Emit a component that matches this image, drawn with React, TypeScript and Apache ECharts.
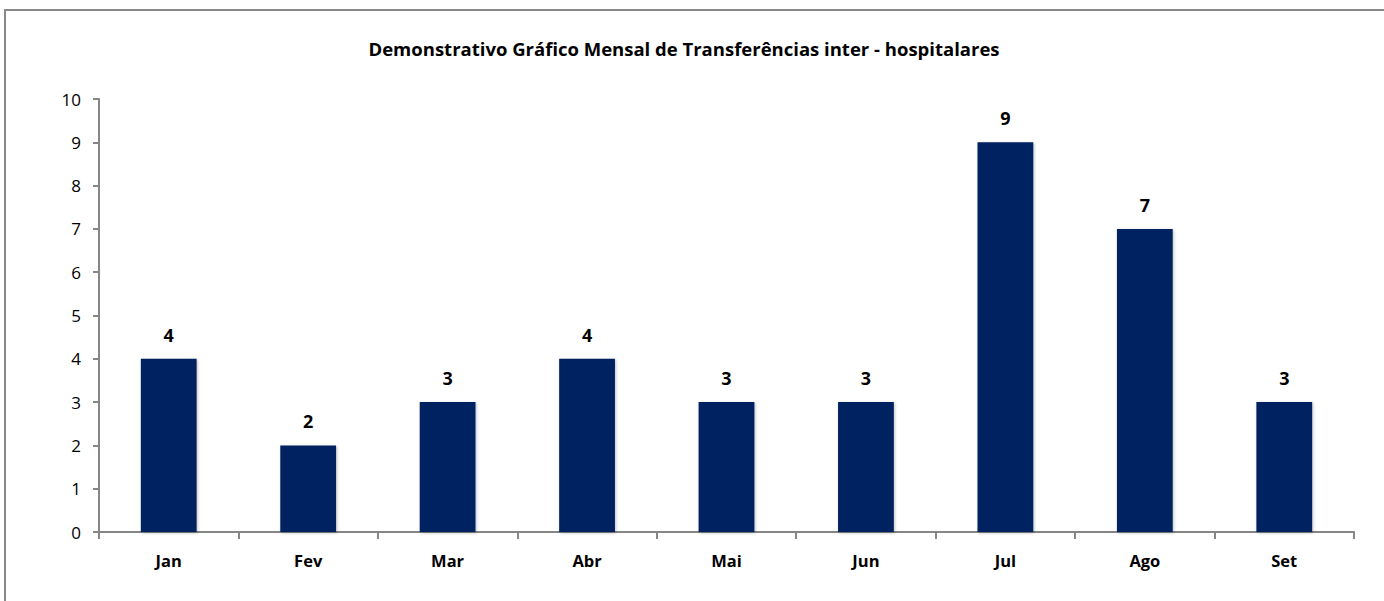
import React, { useEffect, useRef } from "react";
import * as echarts from "echarts";

const titleText = "Demonstrativo Gráfico Mensal de Transferências inter - hospitalares";
const months = ["Jan", "Fev", "Mar", "Abr", "Mai", "Jun", "Jul", "Ago", "Set"];
const transfers = [4, 2, 3, 4, 3, 3, 9, 7, 3];
const yMin = 0;
const yMax = 10;
const yStep = 1;

const FONT = "'Open Sans', 'Noto Sans', sans-serif";

export default function App() {
  const ref = useRef<HTMLDivElement>(null);
  useEffect(() => {
    if (!ref.current) return;
    const chart = echarts.init(ref.current, undefined, { renderer: "svg" });
    chart.setOption({
      animation: false,
      backgroundColor: "#ffffff",
      textStyle: { fontFamily: FONT },
      title: {
        text: titleText,
        left: 679,
        top: 34,
        textAlign: "center",
        textStyle: { fontFamily: FONT, fontSize: 18.5, fontWeight: "bold", color: "#000" },
      },
      graphic: [
        {
          type: "rect",
          shape: { x: 5, y: 10, width: 1420, height: 640 },
          style: { fill: "none", stroke: "#898989", lineWidth: 2 },
          silent: true,
        },
      ],
      grid: { left: 99, right: 30, top: 99, bottom: 69, containLabel: false },
      xAxis: {
        type: "category",
        data: months,
        boundaryGap: true,
        axisLine: { show: true, lineStyle: { color: "#868686", width: 2 } },
        axisTick: { show: true, alignWithLabel: false, interval: 0, length: 7, lineStyle: { color: "#868686", width: 2 } },
        axisLabel: { fontFamily: FONT, fontSize: 16.5, fontWeight: "bold", color: "#000", margin: 20 },
        splitLine: { show: false },
      },
      yAxis: {
        type: "value",
        min: yMin,
        max: yMax,
        interval: yStep,
        axisLine: { show: true, lineStyle: { color: "#868686", width: 2 } },
        axisTick: { show: true, length: 6, lineStyle: { color: "#868686", width: 2 } },
        axisLabel: { fontFamily: FONT, fontSize: 17, color: "#000", margin: 18 },
        splitLine: { show: false },
      },
      series: [
        {
          type: "bar",
          data: transfers,
          barWidth: "40%",
          itemStyle: {
            color: "#002060",
            shadowColor: "rgba(0,0,0,0.25)",
            shadowBlur: 3,
            shadowOffsetX: 1,
            shadowOffsetY: 1,
          },
          label: {
            show: true,
            position: "top",
            distance: 15,
            fontFamily: FONT,
            fontSize: 18,
            fontWeight: "bold",
            color: "#000",
          },
        },
      ],
    });
    return () => chart.dispose();
  }, []);
  return (
    <div
      ref={ref}
      style={{ position: "fixed", left: 0, top: 0, width: 1384, height: 601, background: "#fff" }}
    />
  );
}
